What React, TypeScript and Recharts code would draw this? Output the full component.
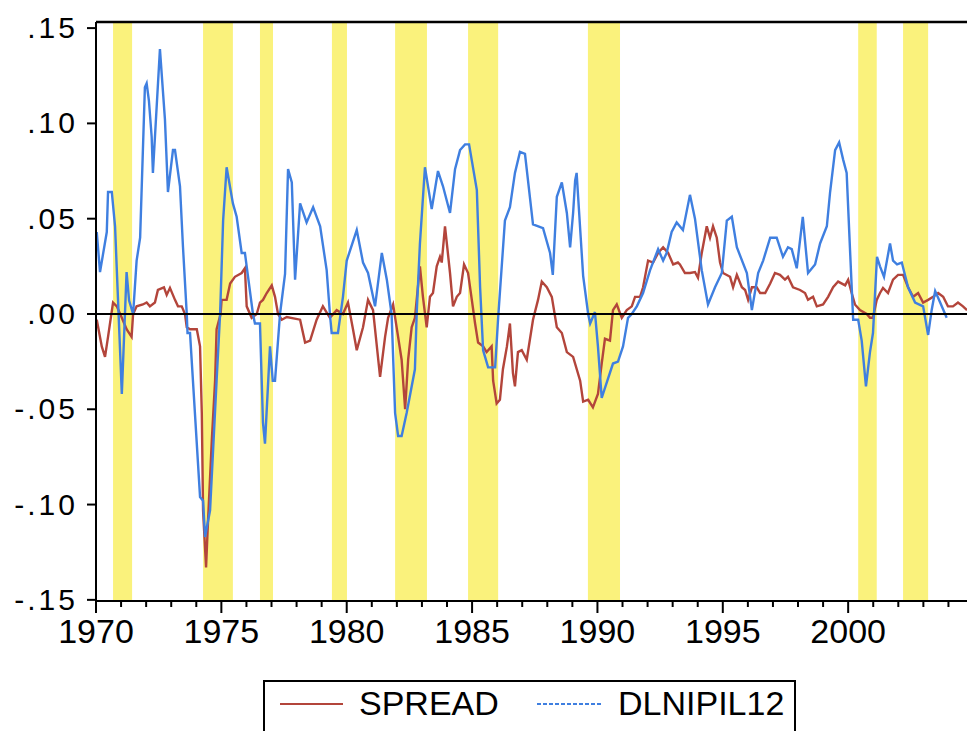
import React from "react";
import {
  ComposedChart,
  Line,
  XAxis,
  YAxis,
  ReferenceArea,
  ReferenceLine,
} from "recharts";

// Monthly-ish observations as [decimal year, value]
const spreadPoints: [number, number][] = [
  [1970.03, -0.003], [1970.23, -0.017], [1970.36, -0.0225], [1970.48, -0.012], [1970.68, 0.006],
  [1970.83, 0.004], [1971.03, -0.002], [1971.22, -0.008], [1971.42, -0.012], [1971.48, 0.0],
  [1971.62, 0.004], [1971.87, 0.005], [1972.02, 0.006], [1972.15, 0.004], [1972.35, 0.006],
  [1972.47, 0.0126], [1972.71, 0.014], [1972.82, 0.01], [1972.95, 0.0137], [1973.15, 0.0074],
  [1973.27, 0.004], [1973.42, 0.004], [1973.55, 0.0], [1973.62, -0.007], [1973.75, -0.008],
  [1974.02, -0.008], [1974.15, -0.017], [1974.22, -0.052], [1974.27, -0.103], [1974.39, -0.133],
  [1974.47, -0.108], [1974.62, -0.066], [1974.75, -0.035], [1974.81, -0.008], [1974.97, 0.0],
  [1975.01, 0.0074], [1975.21, 0.0074], [1975.35, 0.016], [1975.54, 0.0195], [1975.81, 0.0215],
  [1975.94, 0.024], [1976.01, 0.004], [1976.21, -0.002], [1976.41, 0.0], [1976.54, 0.006],
  [1976.66, 0.0074], [1976.81, 0.011], [1977.01, 0.015], [1977.14, 0.009], [1977.26, 0.0],
  [1977.41, -0.003], [1977.61, -0.0016], [1978.14, -0.003], [1978.34, -0.015], [1978.54, -0.014],
  [1978.8, -0.003], [1979.05, 0.004], [1979.33, -0.002], [1979.6, 0.002], [1979.85, 0.0],
  [1980.05, 0.006], [1980.25, -0.008], [1980.4, -0.019], [1980.65, -0.007], [1980.85, 0.0074],
  [1981.05, 0.002], [1981.33, -0.033], [1981.53, -0.012], [1981.65, -0.002], [1981.85, 0.005],
  [1982.05, -0.012], [1982.19, -0.024], [1982.33, -0.05], [1982.45, -0.024], [1982.59, -0.007],
  [1982.72, -0.002], [1982.92, 0.025], [1983.04, 0.009], [1983.19, -0.007], [1983.32, 0.009],
  [1983.44, 0.011], [1983.59, 0.025], [1983.72, 0.03], [1983.79, 0.027], [1983.92, 0.046],
  [1984.12, 0.0215], [1984.24, 0.004], [1984.39, 0.009], [1984.52, 0.011], [1984.68, 0.026],
  [1984.84, 0.0215], [1984.99, 0.0074], [1985.12, -0.005], [1985.24, -0.015], [1985.44, -0.017],
  [1985.58, -0.02], [1985.78, -0.017], [1985.84, -0.035], [1985.98, -0.047], [1986.11, -0.045],
  [1986.23, -0.029], [1986.39, -0.017], [1986.51, -0.005], [1986.63, -0.031], [1986.71, -0.038],
  [1986.83, -0.02], [1986.98, -0.019], [1987.18, -0.024], [1987.43, -0.003], [1987.63, 0.0074],
  [1987.78, 0.017], [1987.98, 0.014], [1988.18, 0.009], [1988.38, -0.007], [1988.58, -0.01],
  [1988.78, -0.02], [1989.03, -0.0225], [1989.31, -0.035], [1989.43, -0.046], [1989.63, -0.045],
  [1989.82, -0.049], [1990.02, -0.042], [1990.17, -0.026], [1990.3, -0.013], [1990.5, -0.014],
  [1990.62, 0.002], [1990.77, 0.005], [1990.97, -0.002], [1991.17, 0.002], [1991.37, 0.004],
  [1991.5, 0.009], [1991.7, 0.009], [1991.82, 0.014], [1992.02, 0.028], [1992.22, 0.027],
  [1992.42, 0.032], [1992.62, 0.035], [1992.82, 0.032], [1993.02, 0.026], [1993.21, 0.027],
  [1993.29, 0.026], [1993.49, 0.0215], [1993.69, 0.0215], [1993.89, 0.022], [1994.01, 0.019],
  [1994.16, 0.032], [1994.36, 0.046], [1994.49, 0.04], [1994.61, 0.046], [1994.76, 0.04],
  [1994.89, 0.027], [1995.01, 0.0215], [1995.29, 0.0195], [1995.41, 0.014], [1995.56, 0.0205],
  [1995.76, 0.014], [1995.89, 0.0126], [1996.01, 0.0074], [1996.16, 0.014], [1996.35, 0.014],
  [1996.49, 0.011], [1996.69, 0.011], [1996.89, 0.016], [1997.08, 0.0215], [1997.28, 0.0205],
  [1997.48, 0.018], [1997.6, 0.0195], [1997.8, 0.014], [1998.08, 0.0126], [1998.28, 0.011],
  [1998.4, 0.0074], [1998.6, 0.009], [1998.75, 0.004], [1999.0, 0.005], [1999.2, 0.009],
  [1999.4, 0.014], [1999.6, 0.017], [1999.88, 0.015], [2000.0, 0.018], [2000.14, 0.011],
  [2000.27, 0.005], [2000.47, 0.002], [2000.74, 0.0], [2000.87, -0.002], [2000.99, -0.002],
  [2001.14, 0.0074], [2001.27, 0.011], [2001.39, 0.0137], [2001.59, 0.011], [2001.79, 0.018],
  [2001.99, 0.0205], [2002.19, 0.0205], [2002.39, 0.014], [2002.59, 0.009], [2002.79, 0.011],
  [2002.99, 0.006], [2003.19, 0.0074], [2003.39, 0.009], [2003.59, 0.011], [2003.79, 0.009],
  [2003.98, 0.004], [2004.18, 0.004], [2004.38, 0.006], [2004.58, 0.004], [2004.74, 0.002],
];

const dlnipil12Points: [number, number][] = [
  [1970.03, 0.043], [1970.16, 0.022], [1970.43, 0.043], [1970.48, 0.064], [1970.63, 0.064],
  [1970.76, 0.046], [1971.03, -0.042], [1971.22, 0.022], [1971.32, 0.007], [1971.48, 0.0],
  [1971.62, 0.028], [1971.76, 0.04], [1971.95, 0.119], [1972.02, 0.121], [1972.11, 0.112],
  [1972.22, 0.093], [1972.27, 0.074], [1972.55, 0.139], [1972.75, 0.102], [1972.87, 0.064],
  [1973.07, 0.086], [1973.15, 0.086], [1973.35, 0.067], [1973.47, 0.035], [1973.62, 0.0],
  [1973.65, -0.01], [1973.75, -0.01], [1974.15, -0.096], [1974.27, -0.098], [1974.35, -0.117],
  [1974.42, -0.112], [1974.55, -0.103], [1974.81, -0.035], [1974.95, 0.0], [1975.07, 0.049],
  [1975.21, 0.077], [1975.46, 0.058], [1975.61, 0.051], [1975.81, 0.032], [1975.94, 0.032],
  [1976.01, 0.025], [1976.26, 0.0], [1976.34, -0.005], [1976.54, -0.005], [1976.66, -0.057],
  [1976.74, -0.068], [1976.94, -0.017], [1977.05, -0.035], [1977.14, -0.035], [1977.34, 0.0],
  [1977.54, 0.021], [1977.66, 0.076], [1977.81, 0.069], [1977.94, 0.018], [1978.14, 0.058],
  [1978.4, 0.048], [1978.66, 0.056], [1978.94, 0.046], [1979.2, 0.023], [1979.33, 0.0],
  [1979.4, -0.01], [1979.65, -0.01], [1979.85, 0.009], [1980.0, 0.028], [1980.4, 0.044],
  [1980.65, 0.027], [1980.85, 0.0215], [1981.13, 0.004], [1981.4, 0.032], [1981.6, 0.018],
  [1981.79, 0.0], [1981.93, -0.052], [1982.05, -0.064], [1982.19, -0.064], [1982.39, -0.052],
  [1982.72, -0.029], [1982.79, 0.0], [1982.92, 0.037], [1983.12, 0.077], [1983.39, 0.055],
  [1983.64, 0.075], [1983.84, 0.067], [1984.12, 0.053], [1984.32, 0.076], [1984.52, 0.086],
  [1984.72, 0.089], [1984.88, 0.089], [1985.19, 0.065], [1985.32, 0.014], [1985.44, -0.019],
  [1985.64, -0.028], [1985.92, -0.028], [1986.04, -0.002], [1986.31, 0.049], [1986.51, 0.056],
  [1986.71, 0.074], [1986.91, 0.085], [1987.11, 0.084], [1987.43, 0.047], [1987.83, 0.045],
  [1988.11, 0.032], [1988.22, 0.0205], [1988.38, 0.0615], [1988.58, 0.069], [1988.78, 0.053],
  [1988.91, 0.035], [1989.03, 0.053], [1989.11, 0.07], [1989.17, 0.074], [1989.23, 0.0615],
  [1989.43, 0.02], [1989.63, 0.0], [1989.71, -0.005], [1989.9, 0.001], [1990.02, -0.017],
  [1990.17, -0.044], [1990.37, -0.036], [1990.62, -0.026], [1990.82, -0.025], [1991.02, -0.017],
  [1991.22, -0.002], [1991.37, 0.0], [1991.57, 0.004], [1991.82, 0.011], [1992.1, 0.023],
  [1992.42, 0.034], [1992.62, 0.028], [1992.76, 0.032], [1992.96, 0.043], [1993.16, 0.048],
  [1993.41, 0.044], [1993.69, 0.0625], [1993.89, 0.05], [1994.16, 0.023], [1994.41, 0.005],
  [1994.69, 0.014], [1994.96, 0.0215], [1995.16, 0.049], [1995.36, 0.051], [1995.56, 0.035],
  [1995.96, 0.0215], [1996.16, 0.002], [1996.41, 0.0215], [1996.61, 0.028], [1996.89, 0.04],
  [1997.15, 0.04], [1997.4, 0.03], [1997.6, 0.035], [1997.75, 0.034], [1997.95, 0.024],
  [1998.19, 0.051], [1998.4, 0.0215], [1998.68, 0.026], [1998.88, 0.037], [1999.15, 0.046],
  [1999.28, 0.064], [1999.48, 0.086], [1999.64, 0.09], [1999.8, 0.081], [1999.94, 0.074],
  [2000.08, 0.032], [2000.2, -0.003], [2000.4, -0.003], [2000.54, -0.014], [2000.71, -0.038],
  [2000.87, -0.02], [2000.99, -0.01], [2001.15, 0.03], [2001.27, 0.025], [2001.43, 0.0195],
  [2001.67, 0.037], [2001.79, 0.028], [2001.95, 0.026], [2002.14, 0.027], [2002.39, 0.014],
  [2002.67, 0.006], [2002.99, 0.004], [2003.19, -0.011], [2003.33, 0.002], [2003.47, 0.012],
  [2003.67, 0.006], [2003.93, -0.002],
];

// Shaded periods [start, end] in decimal years
const shadedPeriods: [number, number][] = [
  [1970.68, 1971.44],
  [1974.27, 1975.46],
  [1976.54, 1977.06],
  [1979.41, 1980.01],
  [1981.93, 1983.2],
  [1984.84, 1986.04],
  [1989.62, 1990.9],
  [2000.4, 2001.14],
  [2002.19, 2003.19],
];

const yearTicks: number[] = Array.from({ length: 35 }, (_, i) => 1970 + i);
const valueTicks: number[] = [-0.15, -0.1, -0.05, 0, 0.05, 0.1, 0.15];

const X_DOMAIN: [number, number] = [1970, 2004.74];
const Y_DOMAIN: [number, number] = [-0.1506, 0.1532];

const FONT = "'Liberation Sans', Arial, Helvetica, sans-serif";
const RED = "#b3453b";
const BLUE = "#3f7fe0";
const YELLOW = "#faf27c";

const spreadData = spreadPoints.map(([t, v]) => ({ t, v }));
const dlnData = dlnipil12Points.map(([t, v]) => ({ t, v }));

function formatValue(v: number): string {
  const s = Math.abs(v).toFixed(2).replace(/^0/, "");
  return v < 0 ? "-" + s : s;
}

function YearTick(props: any) {
  const { x, y, payload } = props;
  const year = payload.value as number;
  const major = year % 5 === 0;
  return (
    <g>
      <line x1={x} x2={x} y1={y} y2={y + (major ? 12 : 6)} stroke="#000" strokeWidth={2} />
      {major && (
        <text x={x} y={y + 42} textAnchor="middle" fontSize={34} fontFamily={FONT} fill="#000">
          {year}
        </text>
      )}
    </g>
  );
}

function ValueTick(props: any) {
  const { x, y, payload } = props;
  return (
    <g>
      <line x1={x} x2={x + 9} y1={y} y2={y} stroke="#000" strokeWidth={2} />
      <text
        x={x - 9}
        y={y + 10}
        textAnchor="end"
        fontSize={30}
        letterSpacing={3}
        fontFamily={FONT}
        fill="#000"
      >
        {formatValue(payload.value)}
      </text>
    </g>
  );
}

function LegendBox() {
  return (
    <svg
      width={540}
      height={60}
      style={{ position: "absolute", left: 260, top: 678 }}
    >
      <path d="M4 60 V3 H535 V60" fill="none" stroke="#000" strokeWidth={2} />
      <line x1={20} x2={83} y1={26} y2={26} stroke={RED} strokeWidth={2} />
      <text x={99} y={37} fontSize={34} fontFamily={FONT} fill="#000">
        SPREAD
      </text>
      <line
        x1={277}
        x2={342}
        y1={26}
        y2={26}
        stroke={BLUE}
        strokeWidth={2}
        strokeDasharray="4 2"
      />
      <text x={358} y={37} fontSize={34} fontFamily={FONT} fill="#000">
        DLNIPIL12
      </text>
    </svg>
  );
}

export default function App() {
  return (
    <div
      style={{
        position: "fixed",
        left: 0,
        top: 0,
        width: 967,
        height: 731,
        overflow: "hidden",
        background: "#fff",
      }}
    >
      <ComposedChart
        width={967}
        height={731}
        margin={{ top: 22, right: 0, bottom: 80, left: 0 }}
      >
        <XAxis
          type="number"
          dataKey="t"
          domain={X_DOMAIN}
          allowDataOverflow
          ticks={yearTicks}
          interval={0}
          height={50}
          tickSize={0}
          tickMargin={0}
          tickLine={false}
          tick={<YearTick />}
          axisLine={{ stroke: "#000", strokeWidth: 2 }}
        />
        <YAxis
          type="number"
          domain={Y_DOMAIN}
          allowDataOverflow
          ticks={valueTicks}
          interval={0}
          width={96}
          tickSize={9}
          tickMargin={0}
          tickLine={false}
          tick={<ValueTick />}
          axisLine={{ stroke: "#000", strokeWidth: 2 }}
        />
        {shadedPeriods.map(([a, b], i) => (
          <ReferenceArea
            key={i}
            x1={a}
            x2={b}
            fill={YELLOW}
            fillOpacity={1}
            stroke="none"
            ifOverflow="hidden"
          />
        ))}
        <Line
          data={spreadData}
          dataKey="v"
          type="linear"
          stroke={RED}
          strokeWidth={2.4}
          dot={false}
          isAnimationActive={false}
        />
        <Line
          data={dlnData}
          dataKey="v"
          type="linear"
          stroke={BLUE}
          strokeWidth={2.4}
          dot={false}
          isAnimationActive={false}
        />
        <ReferenceLine y={0} stroke="#000" strokeWidth={1.8} />
        {/* frame line along the top of the plot area */}
        <ReferenceLine y={Y_DOMAIN[1]} stroke="#000" strokeWidth={2.4} ifOverflow="visible" />
      </ComposedChart>
      <LegendBox />
    </div>
  );
}
